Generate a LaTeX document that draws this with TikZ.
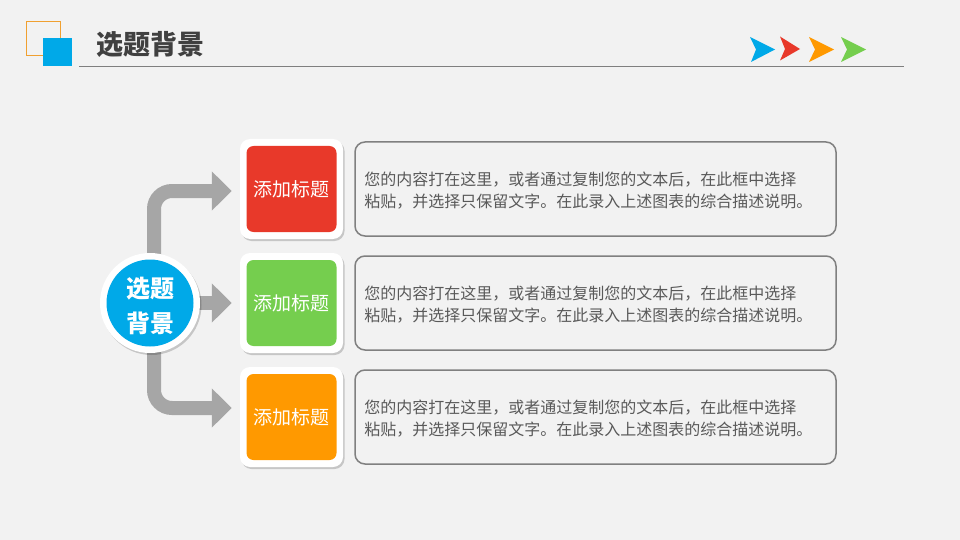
\documentclass[tikz,border=0pt]{standalone}
\usepackage{fontspec}
\setmainfont{Noto Sans CJK SC}
\usetikzlibrary{arrows.meta,shadows}
\definecolor{bgc}{HTML}{F2F2F2}
\definecolor{titlec}{HTML}{404040}
\definecolor{linec}{HTML}{7F7F7F}
\definecolor{sqorange}{HTML}{F0A030}
\definecolor{myblue}{HTML}{00A9E8}
\definecolor{myred}{HTML}{E8392A}
\definecolor{mygreen}{HTML}{75CE4E}
\definecolor{myorange}{HTML}{FF9900}
\definecolor{arrowc}{HTML}{A6A6A6}
\definecolor{boxline}{HTML}{808080}
\definecolor{textc}{HTML}{595959}
\pgfdeclarelayer{back}
\pgfsetlayers{back,main}
\tikzset{
  outerbox/.style={rectangle, rounded corners=10pt, fill=white, minimum width=103pt, minimum height=100pt,
    drop shadow={shadow xshift=1.5pt, shadow yshift=-2pt, opacity=0.18, fill=black}},
  innerbox/.style={rectangle, rounded corners=7pt, minimum width=90pt, minimum height=86pt,
    text=white, font=\fontsize{19}{22}\selectfont},
  descbox/.style={rectangle, rounded corners=10pt, draw=boxline, line width=1.5pt, fill=bgc,
    minimum width=481pt, minimum height=94pt},
  desctext/.style={anchor=west, align=left, text=textc, inner sep=0pt, font=\fontsize{16}{22}\selectfont},
  garrow/.style={draw=arrowc, line width=14pt, rounded corners=18pt, -{Triangle[length=20pt,width=38pt]}}
}
\begin{document}
\begin{tikzpicture}[x=1pt,y=-1pt]
\useasboundingbox (0,0) rectangle (960,540);
\begin{pgfonlayer}{back}
\fill[bgc] (0,0) rectangle (960,540);
\end{pgfonlayer}

% header
\draw[sqorange, line width=1pt] (26,22) rectangle (60,56);
\fill[myblue] (43,38) rectangle (72,66);
\node[anchor=west, text=titlec, font=\fontsize{27}{32}\selectfont\bfseries, inner sep=0pt] (title) at (96,44) {选题背景};
\draw[linec, line width=1pt] (79,66.5) -- (904,66.5);

% small header arrows
\fill[myblue] (750,37) -- (775,49.5) -- (751,62) -- (756,49.5) -- cycle;
\fill[myred] (780,36.5) -- (800,49) -- (780,60.5) -- (785,49) -- cycle;
\fill[myorange] (809,37) -- (834,49.5) -- (809,62) -- (815,49.5) -- cycle;
\fill[mygreen] (841,37) -- (866,49.5) -- (841,62) -- (847,49.5) -- cycle;

% centre circle
\node[circle, fill=white, minimum size=100pt, inner sep=0pt,
  drop shadow={shadow xshift=1.5pt, shadow yshift=-2pt, opacity=0.18, fill=black}] (c) at (150,303) {};
\node[circle, fill=myblue, minimum size=87pt, inner sep=0pt] (ci) at (c) {};
\node[text=white, align=center, inner sep=0pt,
  font=\fontsize{24}{35}\selectfont\bfseries] (ct) at ([yshift=-2.5pt]c.center) {选题\\背景};

% title boxes
\node[outerbox] (t1) at (291.5,189) {};
\node[innerbox, fill=myred] (h1) at (t1) {添加标题};
\node[outerbox] (t2) at (291.5,303) {};
\node[innerbox, fill=mygreen] (h2) at (t2) {添加标题};
\node[outerbox] (t3) at (291.5,417) {};
\node[innerbox, fill=myorange] (h3) at (t3) {添加标题};

% description boxes
\node[descbox] (d1) at (595.5,189) {};
\node[desctext] (x1) at ([xshift=10pt,yshift=-1.5pt]d1.west) {您的内容打在这里，或者通过复制您的文本后，在此框中选择\\粘贴，并选择只保留文字。在此录入上述图表的综合描述说明。};
\node[descbox] (d2) at (595.5,303) {};
\node[desctext] (x2) at ([xshift=10pt,yshift=-1.5pt]d2.west) {您的内容打在这里，或者通过复制您的文本后，在此框中选择\\粘贴，并选择只保留文字。在此录入上述图表的综合描述说明。};
\node[descbox] (d3) at (595.5,417) {};
\node[desctext] (x3) at ([xshift=10pt,yshift=-1.5pt]d3.west) {您的内容打在这里，或者通过复制您的文本后，在此框中选择\\粘贴，并选择只保留文字。在此录入上述图表的综合描述说明。};

% connectors
\begin{pgfonlayer}{back}
\draw[garrow] ([xshift=4pt]c.center) |- ([xshift=-8pt,yshift=-2pt]t1.west);
\draw[garrow] (c.center) -- ([xshift=-8pt]t2.west);
\draw[garrow] ([xshift=4pt]c.center) |- ([xshift=-8pt,yshift=9pt]t3.west);
\end{pgfonlayer}
\end{tikzpicture}
\end{document}
